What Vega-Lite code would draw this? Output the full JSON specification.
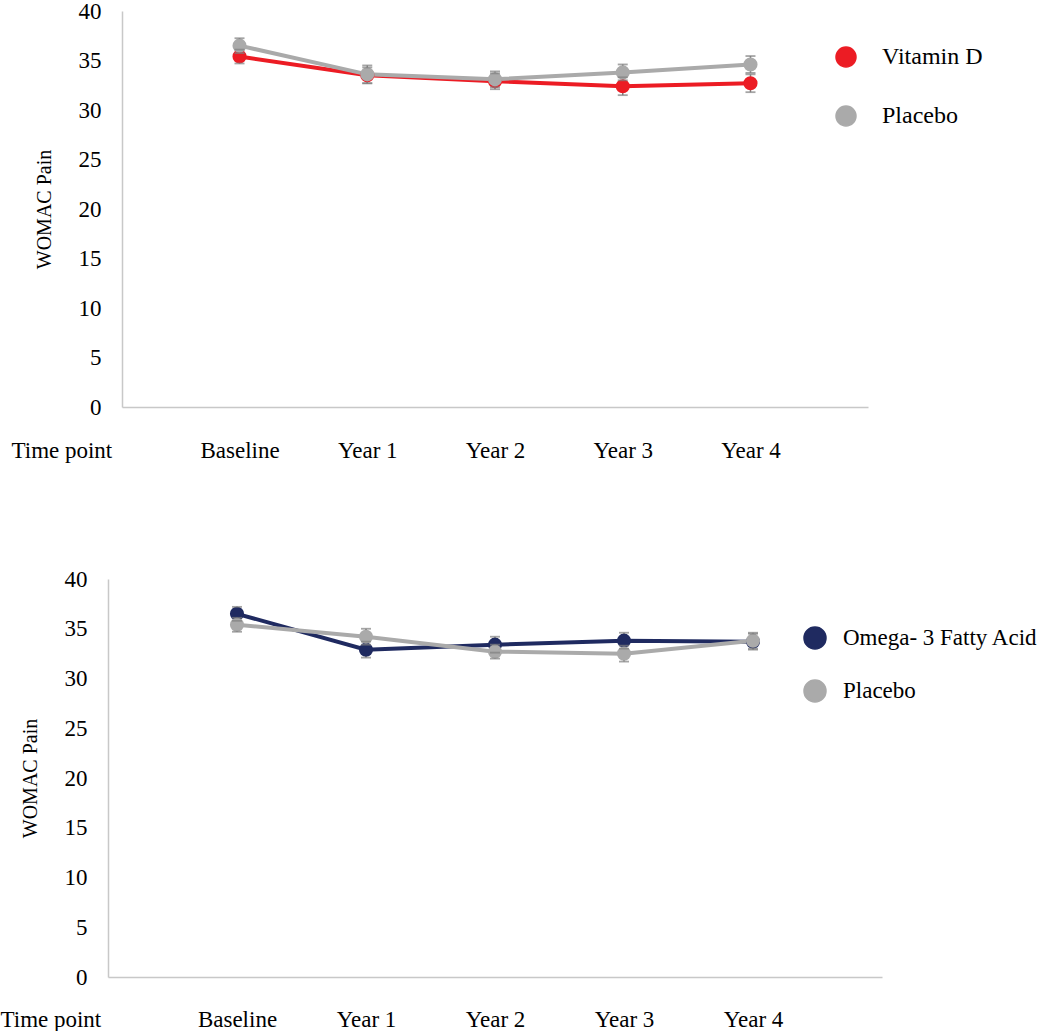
{
  "$schema": "https://vega.github.io/schema/vega-lite/v6.json",
  "padding": {"top": 0, "left": 0, "right": 0, "bottom": 0},
  "background": "white",
  "config": {
    "view": {"stroke": null},
    "font": "Liberation Serif",
    "axis": {"labelFont": "Liberation Serif", "titleFont": "Liberation Serif", "labelColor": "#000000", "titleColor": "#000000", "titleFontWeight": "normal", "labelFontSize": 23, "titleFontSize": 20, "domainColor": "#C8C8C8", "domainWidth": 1.5, "ticks": false, "tickSize": 0, "grid": false}
  },
  "spacing": 172,
  "center": true,
  "bounds": "flush",
  "resolve": {"scale": {"color": "independent", "x": "independent", "y": "independent"}},
  "vconcat": [
    {
      "width": 746,
      "height": 396,
      "data": {"values": [
        {"time": "Baseline", "grp": "Vitamin D", "value": 35.4, "lo": 34.7, "hi": 36.1},
        {"time": "Year 1", "grp": "Vitamin D", "value": 33.5, "lo": 32.7, "hi": 34.3},
        {"time": "Year 2", "grp": "Vitamin D", "value": 32.9, "lo": 32.1, "hi": 33.7},
        {"time": "Year 3", "grp": "Vitamin D", "value": 32.4, "lo": 31.5, "hi": 33.3},
        {"time": "Year 4", "grp": "Vitamin D", "value": 32.7, "lo": 31.8, "hi": 33.6},
        {"time": "Baseline", "grp": "Placebo", "value": 36.5, "lo": 35.75, "hi": 37.25},
        {"time": "Year 1", "grp": "Placebo", "value": 33.6, "lo": 32.7, "hi": 34.5},
        {"time": "Year 2", "grp": "Placebo", "value": 33.1, "lo": 32.3, "hi": 33.9},
        {"time": "Year 3", "grp": "Placebo", "value": 33.8, "lo": 33.0, "hi": 34.6},
        {"time": "Year 4", "grp": "Placebo", "value": 34.6, "lo": 33.75, "hi": 35.45}
      ]},
      "encoding": {
        "x": {"field": "time", "type": "ordinal", "sort": ["Baseline", "Year 1", "Year 2", "Year 3", "Year 4"],
          "scale": {"type": "point", "padding": 0.92},
          "axis": {"title": "Time point", "titleX": -111, "titleY": 43, "titleAlign": "left", "titleBaseline": "middle", "titleFontSize": 23, "labelAngle": 0, "labelPadding": 43, "labelBaseline": "middle"}}
      },
      "layer": [
        {"mark": {"type": "line", "strokeWidth": 4},
         "encoding": {
           "y": {"field": "value", "type": "quantitative", "scale": {"domain": [0, 40]}, "axis": {"title": "WOMAC Pain", "values": [0, 5, 10, 15, 20, 25, 30, 35, 40], "labelPadding": 21, "titlePadding": 24}},
           "color": {"field": "grp", "type": "nominal", "scale": {"domain": ["Vitamin D", "Placebo"], "range": ["#EC1C24", "#AAAAAA"]},
             "legend": {"orient": "none", "legendX": 712, "legendY": 34, "title": null, "symbolType": "circle", "symbolSize": 400, "labelFontSize": 24, "labelFont": "Liberation Serif", "labelColor": "#000000", "labelOffset": 24, "labelLimit": 300, "rowPadding": 33, "padding": 0}}
         }},
        {"mark": {"type": "rule", "color": "#7F7F7F", "strokeWidth": 1.5},
         "encoding": {"y": {"field": "lo", "type": "quantitative"}, "y2": {"field": "hi"}}},
        {"mark": {"type": "point", "filled": true, "opacity": 1, "size": 200},
         "encoding": {
           "y": {"field": "value", "type": "quantitative"},
           "color": {"field": "grp", "type": "nominal", "scale": {"domain": ["Vitamin D", "Placebo"], "range": ["#EC1C24", "#AAAAAA"]},
             "legend": {"orient": "none", "legendX": 712, "legendY": 34, "title": null, "symbolType": "circle", "symbolSize": 400, "labelFontSize": 24, "labelFont": "Liberation Serif", "labelColor": "#000000", "labelOffset": 24, "labelLimit": 300, "rowPadding": 33, "padding": 0}}
         }},
        {"mark": {"type": "tick", "color": "#7F7F7F", "thickness": 1.8, "size": 10, "orient": "horizontal"},
         "encoding": {"y": {"field": "lo", "type": "quantitative"}}},
        {"mark": {"type": "tick", "color": "#7F7F7F", "thickness": 1.8, "size": 10, "orient": "horizontal"},
         "encoding": {"y": {"field": "hi", "type": "quantitative"}}}
      ]
    },
    {
      "width": 774,
      "height": 398,
      "data": {"values": [
        {"time": "Baseline", "grp": "Omega- 3 Fatty Acid", "value": 36.5, "lo": 35.8, "hi": 37.2},
        {"time": "Year 1", "grp": "Omega- 3 Fatty Acid", "value": 32.9, "lo": 32.1, "hi": 33.7},
        {"time": "Year 2", "grp": "Omega- 3 Fatty Acid", "value": 33.4, "lo": 32.6, "hi": 34.2},
        {"time": "Year 3", "grp": "Omega- 3 Fatty Acid", "value": 33.8, "lo": 33.0, "hi": 34.6},
        {"time": "Year 4", "grp": "Omega- 3 Fatty Acid", "value": 33.7, "lo": 32.9, "hi": 34.5},
        {"time": "Baseline", "grp": "Placebo", "value": 35.4, "lo": 34.7, "hi": 36.1},
        {"time": "Year 1", "grp": "Placebo", "value": 34.2, "lo": 33.4, "hi": 35.0},
        {"time": "Year 2", "grp": "Placebo", "value": 32.7, "lo": 32.0, "hi": 33.4},
        {"time": "Year 3", "grp": "Placebo", "value": 32.5, "lo": 31.7, "hi": 33.3},
        {"time": "Year 4", "grp": "Placebo", "value": 33.8, "lo": 33.0, "hi": 34.6}
      ]},
      "encoding": {
        "x": {"field": "time", "type": "ordinal", "sort": ["Baseline", "Year 1", "Year 2", "Year 3", "Year 4"],
          "scale": {"type": "point", "padding": 1.0},
          "axis": {"title": "Time point", "titleX": -108, "titleY": 42, "titleAlign": "left", "titleBaseline": "middle", "titleFontSize": 23, "labelAngle": 0, "labelPadding": 42, "labelBaseline": "middle"}}
      },
      "layer": [
        {"mark": {"type": "line", "strokeWidth": 4},
         "encoding": {
           "y": {"field": "value", "type": "quantitative", "scale": {"domain": [0, 40]}, "axis": {"title": "WOMAC Pain", "values": [0, 5, 10, 15, 20, 25, 30, 35, 40], "labelPadding": 21, "titlePadding": 24}},
           "color": {"field": "grp", "type": "nominal", "scale": {"domain": ["Omega- 3 Fatty Acid", "Placebo"], "range": ["#1F2A60", "#AAAAAA"]},
             "legend": {"orient": "none", "legendX": 695, "legendY": 47, "title": null, "symbolType": "circle", "symbolSize": 484, "labelFontSize": 23, "labelFont": "Liberation Serif", "labelColor": "#000000", "labelOffset": 16, "labelLimit": 300, "rowPadding": 25, "padding": 0}}
         }},
        {"mark": {"type": "rule", "color": "#7F7F7F", "strokeWidth": 1.5},
         "encoding": {"y": {"field": "lo", "type": "quantitative"}, "y2": {"field": "hi"}}},
        {"mark": {"type": "point", "filled": true, "opacity": 1, "size": 200},
         "encoding": {
           "y": {"field": "value", "type": "quantitative"},
           "color": {"field": "grp", "type": "nominal", "scale": {"domain": ["Omega- 3 Fatty Acid", "Placebo"], "range": ["#1F2A60", "#AAAAAA"]},
             "legend": {"orient": "none", "legendX": 695, "legendY": 47, "title": null, "symbolType": "circle", "symbolSize": 484, "labelFontSize": 23, "labelFont": "Liberation Serif", "labelColor": "#000000", "labelOffset": 16, "labelLimit": 300, "rowPadding": 25, "padding": 0}}
         }},
        {"mark": {"type": "tick", "color": "#7F7F7F", "thickness": 1.8, "size": 10, "orient": "horizontal"},
         "encoding": {"y": {"field": "lo", "type": "quantitative"}}},
        {"mark": {"type": "tick", "color": "#7F7F7F", "thickness": 1.8, "size": 10, "orient": "horizontal"},
         "encoding": {"y": {"field": "hi", "type": "quantitative"}}}
      ]
    }
  ]
}
